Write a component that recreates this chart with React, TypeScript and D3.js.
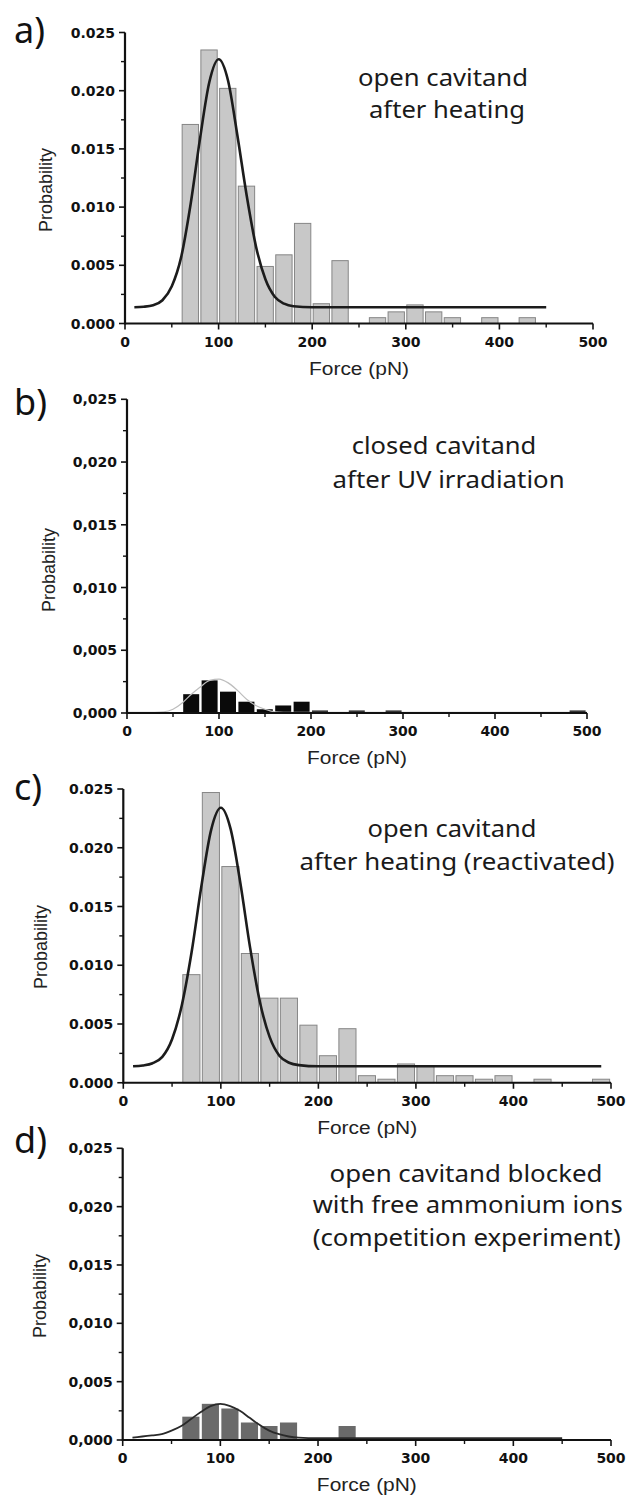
import React from 'react';
import * as d3 from 'd3';

// ---------- shared axis data ----------
const BIN_WIDTH = 20;
const xTickValues = [0, 100, 200, 300, 400, 500];
const xMinorTicks = [50, 150, 250, 350, 450];
const yTickValues = [0, 0.005, 0.01, 0.015, 0.02, 0.025];
const yMinorTicks = [0.0025, 0.0075, 0.0125, 0.0175, 0.0225];
const xTitle = 'Force (pN)';
const yTitle = 'Probability';

// ---------- panel a ----------
const aBinStarts = [60, 80, 100, 120, 140, 160, 180, 200, 220, 260, 280, 300, 320, 340, 380, 420];
const aValues = [0.0171, 0.0235, 0.0202, 0.0118, 0.0049, 0.0059, 0.0086, 0.0017, 0.0054, 0.0005, 0.001, 0.0016, 0.001, 0.0005, 0.0005, 0.0005];
const aFitForce = [10, 20, 30, 40, 50, 60, 70, 80, 90, 100, 110, 120, 130, 140, 150, 160, 170, 180, 200, 250, 300, 350, 400, 450];
const aFitProb = [0.0014, 0.00144, 0.00157, 0.002, 0.0032, 0.0057, 0.0102, 0.0158, 0.0207, 0.0227, 0.0209, 0.0162, 0.011, 0.0066, 0.0038, 0.0023, 0.0017, 0.00148, 0.0014, 0.0014, 0.0014, 0.0014, 0.0014, 0.0014];
const aText = ['open cavitand', 'after heating'];

// ---------- panel b ----------
const bBinStarts = [60, 80, 100, 120, 140, 160, 180, 200, 240, 280, 480];
const bValues = [0.0015, 0.0026, 0.0017, 0.0009, 0.0003, 0.0006, 0.0009, 0.0002, 0.0002, 0.0002, 0.0002];
const bFitForce = [0, 20, 40, 50, 60, 70, 80, 90, 100, 110, 120, 130, 140, 150, 160, 180, 500];
const bFitProb = [0.00005, 0.00005, 0.0001, 0.0003, 0.0008, 0.0015, 0.0021, 0.0026, 0.0027, 0.0024, 0.0018, 0.0011, 0.0006, 0.0003, 0.0001, 0.00005, 0.00005];
const bText = ['closed cavitand', 'after UV irradiation'];

// ---------- panel c ----------
const cBinStarts = [60, 80, 100, 120, 140, 160, 180, 200, 220, 240, 260, 280, 300, 320, 340, 360, 380, 420, 480];
const cValues = [0.0092, 0.0247, 0.0184, 0.011, 0.0072, 0.0072, 0.0049, 0.0023, 0.0046, 0.0006, 0.0003, 0.0016, 0.0014, 0.0006, 0.0006, 0.0003, 0.0006, 0.0003, 0.0003];
const cFitForce = [10, 20, 30, 40, 50, 60, 70, 80, 90, 100, 110, 120, 130, 140, 150, 160, 170, 180, 200, 250, 300, 350, 400, 450, 490];
const cFitProb = [0.0014, 0.00147, 0.00166, 0.0022, 0.0037, 0.0066, 0.0111, 0.0167, 0.0215, 0.0234, 0.0216, 0.017, 0.0115, 0.0069, 0.0039, 0.0023, 0.0017, 0.0015, 0.0014, 0.0014, 0.0014, 0.0014, 0.0014, 0.0014, 0.0014];
const cText = ['open cavitand', 'after heating (reactivated)'];

// ---------- panel d ----------
const dBinStarts = [60, 80, 100, 120, 140, 160, 220];
const dValues = [0.002, 0.0031, 0.0027, 0.0015, 0.0012, 0.0015, 0.0012];
const dFitForce = [10, 20, 30, 40, 50, 60, 70, 80, 90, 100, 110, 120, 130, 140, 150, 160, 170, 180, 200, 250, 300, 350, 400, 450];
const dFitProb = [0.0002, 0.0003, 0.0004, 0.0005, 0.0008, 0.0012, 0.0018, 0.0024, 0.0029, 0.0031, 0.0029, 0.0025, 0.0019, 0.0013, 0.0008, 0.0005, 0.0003, 0.0002, 0.00015, 0.00015, 0.00015, 0.00015, 0.00015, 0.00015];
const dText = ['open cavitand blocked', 'with free ammonium ions', '(competition experiment)'];

// ---------- layout & style (not data) ----------
type Layout = {
  x0: number; x1: number; yTop: number; yBot: number; letterY: number;
  probX: number; probY: number; textCx: number[]; textY: number[]; textW: number[];
};
type Style = { barFill: string; barStroke: string; fitStroke: string; fitWidth: number; sep: string };

const layoutA: Layout = { x0: 125, x1: 593, yTop: 32.5, yBot: 323.5, letterY: 43, probX: 46, probY: 190, textCx: [443, 447], textY: [86, 118], textW: [170, 156] };
const layoutB: Layout = { x0: 127, x1: 587, yTop: 399.3, yBot: 713, letterY: 415, probX: 49, probY: 570, textCx: [444, 448.6], textY: [454, 488], textW: [184.5, 232] };
const layoutC: Layout = { x0: 123.3, x1: 611, yTop: 789, yBot: 1082.75, letterY: 800, probX: 41, probY: 947, textCx: [452, 457], textY: [837, 870], textW: [169, 315] };
const layoutD: Layout = { x0: 122.7, x1: 611, yTop: 1148.3, yBot: 1440, letterY: 1153, probX: 40, probY: 1296, textCx: [466, 467.7, 466.7], textY: [1182, 1213, 1246], textW: [273, 310, 308] };

const styleLight: Style = { barFill: '#c8c8c8', barStroke: '#868686', fitStroke: '#1c1c1c', fitWidth: 2.6, sep: '.' };
const styleB: Style = { barFill: '#0a0a0a', barStroke: 'none', fitStroke: '#bdbdbd', fitWidth: 1.2, sep: ',' };
const styleC: Style = { barFill: '#c8c8c8', barStroke: '#868686', fitStroke: '#1c1c1c', fitWidth: 2.6, sep: '.' };
const styleD: Style = { barFill: '#6a6a6a', barStroke: 'none', fitStroke: '#2a2a2a', fitWidth: 1.8, sep: ',' };

const TICK_FONT = '"DejaVu Sans", Verdana, sans-serif';
const TITLE_FONT = '"Liberation Sans", Arial, sans-serif';
const NOTE_FONT = '"Noto Sans", "Open Sans", sans-serif';

type PanelProps = {
  letter: string; bins: number[]; values: number[]; fitX: number[]; fitY: number[];
  text: string[]; layout: Layout; style: Style;
};

function Panel({ letter, bins, values, fitX, fitY, text, layout, style }: PanelProps) {
  const x = d3.scaleLinear().domain([0, 500]).range([layout.x0, layout.x1]);
  const y = d3.scaleLinear().domain([0, 0.025]).range([layout.yBot, layout.yTop]);
  const fmt = d3.format('.3f');
  const line = d3.line<number>()
    .x((_, i) => x(fitX[i]))
    .y((d) => y(d))
    .curve(d3.curveMonotoneX);
  const fitPath = line(fitY) || '';
  const axisW = 2.2;
  return (
    <g>
      <text x={14} y={layout.letterY} fontFamily={NOTE_FONT} fontSize={36} fill="#111">{letter}</text>
      {/* bars */}
      {bins.map((b, i) => {
        const xl = x(b);
        const xr = x(b + BIN_WIDTH);
        return (
          <rect key={i} x={xl + 1} y={y(values[i])} width={xr - xl - 2.4}
            height={y(0) - y(values[i])} fill={style.barFill}
            stroke={style.barStroke} strokeWidth={1} />
        );
      })}
      {/* fit */}
      <path d={fitPath} fill="none" stroke={style.fitStroke} strokeWidth={style.fitWidth} strokeLinejoin="round" />
      {/* axes */}
      <line x1={layout.x0} x2={layout.x1} y1={layout.yBot} y2={layout.yBot} stroke="#111" strokeWidth={axisW} />
      <line x1={layout.x0} x2={layout.x0} y1={layout.yBot + axisW / 2} y2={layout.yTop} stroke="#111" strokeWidth={axisW} />
      {yTickValues.map((t) => (
        <g key={'y' + t}>
          <line x1={layout.x0 - 6} x2={layout.x0} y1={y(t)} y2={y(t)} stroke="#111" strokeWidth={1.6} />
          <text x={layout.x0 - 10} y={y(t)} dy="0.36em" textAnchor="end" fontFamily={TICK_FONT}
            fontWeight="bold" fontSize={14} fill="#111">{fmt(t).replace('.', style.sep)}</text>
        </g>
      ))}
      {yMinorTicks.map((t) => (
        <line key={'ym' + t} x1={layout.x0 - 4} x2={layout.x0} y1={y(t)} y2={y(t)} stroke="#111" strokeWidth={1.4} />
      ))}
      {xTickValues.map((t) => (
        <g key={'x' + t}>
          <line x1={x(t)} x2={x(t)} y1={layout.yBot} y2={layout.yBot + 6} stroke="#111" strokeWidth={1.6} />
          <text x={x(t)} y={layout.yBot + 23} textAnchor="middle" fontFamily={TICK_FONT}
            fontWeight="bold" fontSize={14} fill="#111">{t}</text>
        </g>
      ))}
      {xMinorTicks.map((t) => (
        <line key={'xm' + t} x1={x(t)} x2={x(t)} y1={layout.yBot} y2={layout.yBot + 4} stroke="#111" strokeWidth={1.4} />
      ))}
      {/* titles */}
      <text x={x(250)} y={layout.yBot + 51} textAnchor="middle" fontFamily={TITLE_FONT} fontSize={18}
        textLength={100} lengthAdjust="spacingAndGlyphs" fill="#222">{xTitle}</text>
      <text transform={`translate(${layout.probX},${layout.probY}) rotate(-90)`} textAnchor="middle" dy="0.35em"
        fontFamily={TITLE_FONT} fontSize={18} fill="#222">{yTitle}</text>
      {/* annotation */}
      {text.map((t, i) => (
        <text key={'t' + i} x={layout.textCx[i]} y={layout.textY[i]} textAnchor="middle"
          fontFamily={NOTE_FONT} fontSize={24} textLength={layout.textW[i]} lengthAdjust="spacingAndGlyphs"
          fill="#1a1a1a">{t}</text>
      ))}
    </g>
  );
}

export default function App() {
  return (
    <svg width={630} height={1495} viewBox="0 0 630 1495"
      style={{ position: 'absolute', left: 0, top: 0, background: '#fff' }}>
      <rect x={0} y={0} width={630} height={1495} fill="#fff" />
      <Panel letter="a)" bins={aBinStarts} values={aValues} fitX={aFitForce} fitY={aFitProb} text={aText} layout={layoutA} style={styleLight} />
      <Panel letter="b)" bins={bBinStarts} values={bValues} fitX={bFitForce} fitY={bFitProb} text={bText} layout={layoutB} style={styleB} />
      <Panel letter="c)" bins={cBinStarts} values={cValues} fitX={cFitForce} fitY={cFitProb} text={cText} layout={layoutC} style={styleC} />
      <Panel letter="d)" bins={dBinStarts} values={dValues} fitX={dFitForce} fitY={dFitProb} text={dText} layout={layoutD} style={styleD} />
    </svg>
  );
}
